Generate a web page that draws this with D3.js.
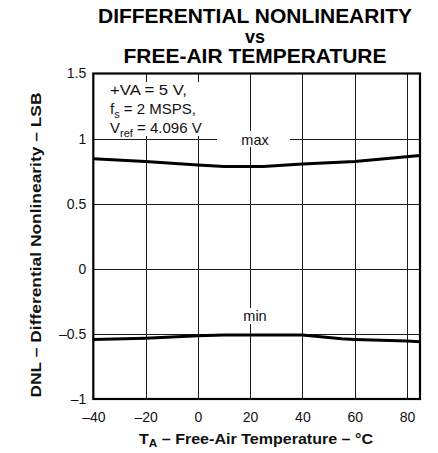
<!DOCTYPE html>
<html><head><meta charset="utf-8">
<script src="https://cdn.jsdelivr.net/npm/d3@7"></script>
<style>
html,body{margin:0;padding:0;background:#fff;}
svg{display:block;font-family:"Liberation Sans",Arial,Helvetica,sans-serif;}
</style></head>
<body>
<svg id="chart" width="438" height="453"></svg>
<script>
// ---- data ----
const titleLines = ["DIFFERENTIAL NONLINEARITY", "vs", "FREE-AIR TEMPERATURE"];
const xTicks = [-40, -20, 0, 20, 40, 60, 80];
const xTickLabels = ["\u201340", "\u201320", "0", "20", "40", "60", "80"];
const yTicks = [-1, -0.5, 0, 0.5, 1, 1.5];
const yTickLabels = ["\u20131", "\u20130.5", "0", "0.5", "1", "1.5"];
const maxTemps = [-40, -20, 0, 10, 25, 40, 60, 85];
const maxDNL = [0.845, 0.825, 0.797, 0.785, 0.785, 0.805, 0.825, 0.871];
const minTemps = [-40, -20, 0, 10, 40, 55, 60, 80, 85];
const minDNL = [-0.543, -0.533, -0.515, -0.508, -0.508, -0.538, -0.543, -0.555, -0.56];

// ---- layout ----
const svg = d3.select("#chart");
const L = 93.3, R = 420, T = 73.5, B = 399;
const x = d3.scaleLinear().domain([-40, 85]).range([L, R]);
const y = d3.scaleLinear().domain([-1, 1.5]).range([B, T]);

// title
const titleBase = [23.3, 43, 63.3];
const titleLen = [314, 20, 263];
const titleSize = [19.5, 18, 19.5];
titleLines.forEach((t, i) => {
  svg.append("text").attr("x", 255).attr("y", titleBase[i])
    .attr("text-anchor", "middle").attr("font-weight", "bold")
    .attr("font-size", titleSize[i]).attr("fill", "#000")
    .attr("textLength", titleLen[i]).attr("lengthAdjust", "spacingAndGlyphs").text(t);
});

// grid lines
const grid = svg.append("g").attr("stroke", "#1a1a1a").attr("stroke-width", 1);
grid.selectAll("line.v").data(xTicks.filter(d => d > -40)).join("line")
  .attr("x1", d => Math.round(x(d)) + 0.5).attr("x2", d => Math.round(x(d)) + 0.5)
  .attr("y1", T).attr("y2", B);
grid.selectAll("line.h").data(yTicks.filter(d => d > -1 && d < 1.5)).join("line")
  .attr("x1", L).attr("x2", R)
  .attr("y1", d => Math.round(y(d)) + 0.5).attr("y2", d => Math.round(y(d)) + 0.5);

// white label boxes
svg.append("rect").attr("x", 95).attr("y", 82).attr("width", 122).attr("height", 54).attr("fill", "#fff");
svg.append("rect").attr("x", 217).attr("y", 131).attr("width", 73).attr("height", 16).attr("fill", "#fff");
svg.append("rect").attr("x", 238).attr("y", 308).attr("width", 33).attr("height", 16).attr("fill", "#fff");

// axes (labels only)
const xAxis = svg.append("g").attr("transform", `translate(0,${B})`)
  .call(d3.axisBottom(x).tickValues(xTicks).tickSize(0).tickPadding(13)
    .tickFormat((d, i) => xTickLabels[i]));
const yAxis = svg.append("g").attr("transform", `translate(${L},0)`)
  .call(d3.axisLeft(y).tickValues(yTicks).tickSize(0).tickPadding(7)
    .tickFormat((d, i) => yTickLabels[i]));
[xAxis, yAxis].forEach(g => {
  g.select(".domain").remove();
  g.selectAll("text").attr("font-size", 14).attr("fill", "#111")
    .attr("font-family", "'Liberation Sans',Arial,sans-serif");
});

// plot border
svg.append("rect").attr("x", L).attr("y", T).attr("width", R - L).attr("height", B - T)
  .attr("fill", "none").attr("stroke", "#000").attr("stroke-width", 2.2);

// data lines
const line = d3.line().x(d => x(d[0])).y(d => y(d[1]));
svg.append("path").datum(maxTemps.map((t, i) => [t, maxDNL[i]]))
  .attr("d", line).attr("fill", "none").attr("stroke", "#000").attr("stroke-width", 3);
svg.append("path").datum(minTemps.map((t, i) => [t, minDNL[i]]))
  .attr("d", line).attr("fill", "none").attr("stroke", "#000").attr("stroke-width", 3);

// curve labels
svg.append("text").attr("x", 255).attr("y", 145).attr("text-anchor", "middle")
  .attr("font-size", 14.5).attr("fill", "#111").text("max");
svg.append("text").attr("x", 255).attr("y", 321).attr("text-anchor", "middle")
  .attr("font-size", 14.5).attr("fill", "#111").text("min");

// conditions text
const info = svg.append("g").attr("font-size", 15).attr("fill", "#111");
info.append("text").attr("x", 110).attr("y", 95).attr("textLength", 77)
  .attr("lengthAdjust", "spacingAndGlyphs").text("+VA = 5 V,");
const l2 = info.append("text").attr("x", 110).attr("y", 114);
l2.append("tspan").text("f");
l2.append("tspan").attr("font-size", 11).attr("dy", 4).text("s");
l2.append("tspan").attr("dy", -4).text(" = 2 MSPS,");
const l3 = info.append("text").attr("x", 110).attr("y", 132.5);
l3.append("tspan").text("V");
l3.append("tspan").attr("font-size", 11).attr("dy", 4).text("ref");
l3.append("tspan").attr("dy", -4).text(" = 4.096 V");

// axis titles
const xt = svg.append("text").attr("x", 256).attr("y", 443.5).attr("text-anchor", "middle")
  .attr("font-weight", "bold").attr("font-size", 15).attr("fill", "#111")
  .attr("textLength", 234).attr("lengthAdjust", "spacingAndGlyphs");
xt.append("tspan").text("T");
xt.append("tspan").attr("font-size", 11).attr("dy", 3).text("A");
xt.append("tspan").attr("dy", -3).text(" \u2013 Free-Air Temperature \u2013 \u00B0C");

svg.append("text").attr("transform", "translate(41,245) rotate(-90)")
  .attr("text-anchor", "middle").attr("font-weight", "bold").attr("font-size", 15)
  .attr("fill", "#111").attr("textLength", 305).attr("lengthAdjust", "spacingAndGlyphs")
  .text("DNL \u2013 Differential Nonlinearity \u2013 LSB");
</script>
</body></html>
